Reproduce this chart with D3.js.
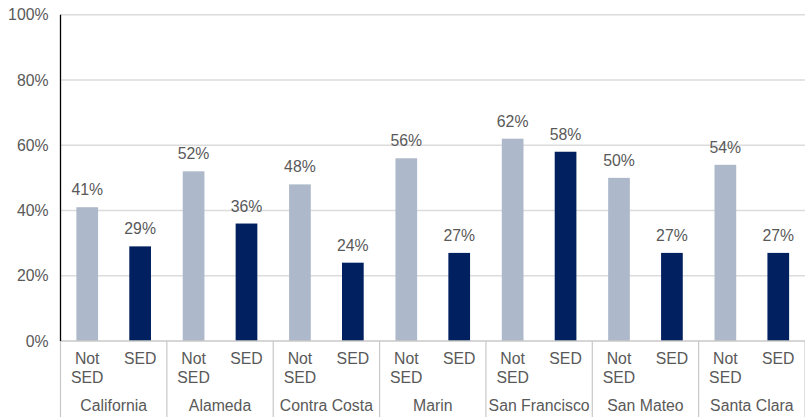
<!DOCTYPE html>
<html>
<head>
<meta charset="utf-8">
<script src="https://cdn.jsdelivr.net/npm/d3@7"></script>
<style>
  body { margin: 0; background: #fff; }
  text { font-family: "Liberation Sans", Arial, sans-serif; fill: #595959; }
</style>
</head>
<body>
<svg id="chart"></svg>
<script>
// Chart data
const regions = ["California", "Alameda", "Contra Costa", "Marin", "San Francisco", "San Mateo", "Santa Clara"];
const groups = ["Not SED", "SED"];
const notSed = [41, 52, 48, 56, 62, 50, 54];
const sed = [29, 36, 24, 27, 58, 27, 27];
const yTicks = [0, 20, 40, 60, 80, 100];

const width = 805, height = 417;
const margin = { top: 14.7, right: 0, bottom: 76, left: 60.5 };
const innerW = width - margin.left - margin.right;
const innerH = height - margin.top - margin.bottom;
const fs = "15.8px";

const svg = d3.select("#chart")
    .attr("width", width)
    .attr("height", height);

const g = svg.append("g")
    .attr("transform", `translate(${margin.left},${margin.top})`);

const x0 = d3.scaleBand().domain(regions).range([0, innerW]);
const x1 = d3.scaleBand().domain(groups).range([0, x0.bandwidth()]).paddingInner(0.59).paddingOuter(0.3);
const y = d3.scaleLinear().domain([0, 100]).range([innerH, 0]);

// Gridlines
g.selectAll(".grid")
    .data(yTicks.filter(d => d > 0))
    .enter().append("line")
    .attr("x1", 0).attr("x2", innerW)
    .attr("y1", d => y(d)).attr("y2", d => y(d))
    .attr("stroke", "#dcdcdc")
    .attr("stroke-width", 1.5);

// Y tick labels
g.selectAll(".ylab")
    .data(yTicks)
    .enter().append("text")
    .attr("x", -12)
    .attr("y", d => y(d))
    .attr("dy", "0.36em")
    .attr("text-anchor", "end")
    .style("font-size", fs)
    .text(d => d + "%");

// Bars
const rows = regions.map((r, i) => ({ region: r, values: [
    { key: "Not SED", v: notSed[i] },
    { key: "SED", v: sed[i] }
]}));

const colors = { "Not SED": "#adb9ca", "SED": "#002060" };

const grp = g.selectAll(".grp")
    .data(rows)
    .enter().append("g")
    .attr("transform", d => `translate(${x0(d.region)},0)`);

grp.selectAll("rect")
    .data(d => d.values)
    .enter().append("rect")
    .attr("x", d => x1(d.key))
    .attr("width", x1.bandwidth())
    .attr("y", d => y(d.v))
    .attr("height", d => innerH - y(d.v))
    .attr("fill", d => colors[d.key]);

// Value labels
grp.selectAll(".val")
    .data(d => d.values)
    .enter().append("text")
    .attr("x", d => x1(d.key) + x1.bandwidth() / 2)
    .attr("y", d => y(d.v) - 12)
    .attr("text-anchor", "middle")
    .style("font-size", fs)
    .text(d => d.v + "%");

// Category labels (Not / SED on two lines)
grp.selectAll(".cat")
    .data(d => d.values)
    .enter().append("text")
    .attr("text-anchor", "middle")
    .style("font-size", fs)
    .each(function(d) {
        const t = d3.select(this);
        const cx = x1(d.key) + x1.bandwidth() / 2;
        d.key.split(" ").forEach((w, i) => {
            t.append("tspan")
                .attr("x", cx)
                .attr("y", innerH + 23 + i * 19)
                .text(w);
        });
    });

// Region labels
g.selectAll(".region")
    .data(regions)
    .enter().append("text")
    .attr("x", d => x0(d) + x0.bandwidth() / 2)
    .attr("y", innerH + 70)
    .attr("text-anchor", "middle")
    .style("font-size", fs)
    .text(d => d);

// Group dividers below the baseline
const bounds = regions.map(r => x0(r)).concat([innerW]);
g.selectAll(".div")
    .data(bounds)
    .enter().append("line")
    .attr("x1", d => d).attr("x2", d => d)
    .attr("y1", innerH).attr("y2", innerH + margin.bottom)
    .attr("stroke", "#c8c8c8")
    .attr("stroke-width", 1.2);

// Baseline
g.append("line")
    .attr("x1", 0).attr("x2", innerW)
    .attr("y1", innerH).attr("y2", innerH)
    .attr("stroke", "#c8c8c8")
    .attr("stroke-width", 1.4);

// Left axis line
g.append("line")
    .attr("x1", 0).attr("x2", 0)
    .attr("y1", 0).attr("y2", innerH)
    .attr("stroke", "#000")
    .attr("stroke-width", 1.3);
</script>
</body>
</html>
